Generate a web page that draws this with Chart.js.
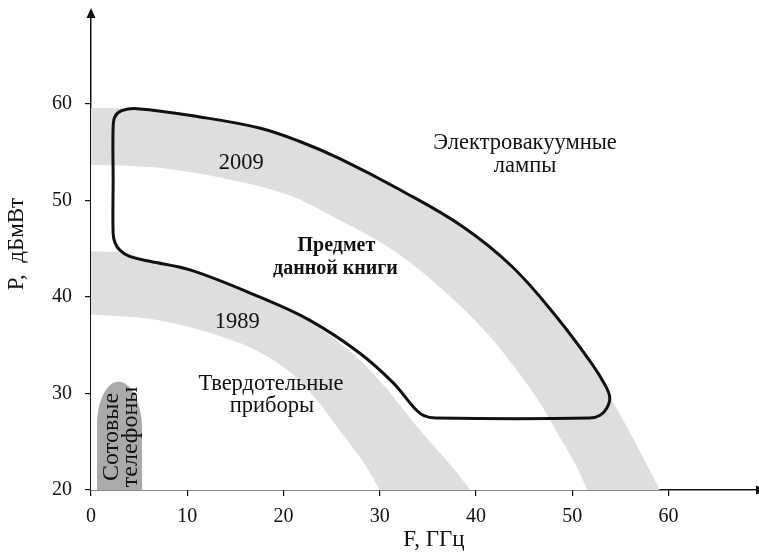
<!DOCTYPE html>
<html lang="ru">
<head>
<meta charset="utf-8">
<title>P(F)</title>
<script src="https://cdn.jsdelivr.net/npm/chart.js@4.4.1/dist/chart.umd.min.js"></script>
<style>
  html, body { margin: 0; padding: 0; background: #fff; }
  canvas { display: block; }
</style>
</head>
<body>
<canvas id="chart" width="759" height="554"></canvas>
<script>
// axis ticks
const xTicks = [0, 10, 20, 30, 40, 50, 60];
const yTicks = [20, 30, 40, 50, 60];
const xMax = 69.2;
const yMax = 69;

// band edges, [F, P]
const band2009Outer = [[0, 59.6], [4.8, 59.5], [11.3, 58.65], [17.5, 57.5], [21.7, 56.1], [25.9, 54.3], [32.1, 51.1], [38.6, 47.3], [43.8, 43.1], [48.4, 37.9], [52.1, 33.0], [53.9, 29.7], [55.7, 26.5], [57.4, 23.3], [59.1, 20]];
const band2009Inner = [[0, 53.7], [6.85, 53.4], [13.7, 52.3], [20.7, 50.5], [24.8, 48.5], [31.6, 44.7], [36.6, 40.7], [41.1, 36.3], [44.1, 32.6], [47.1, 28.3], [48.7, 25.5], [50.2, 22.9], [51.6, 20]];
const band1989Outer = [[0, 44.7], [3.3, 44.6], [6.1, 43.7], [10.3, 42.8], [15.5, 41.0], [20.7, 38.65], [24.8, 36.0], [27.9, 33.5], [30.8, 30.4], [33.3, 27.25], [35.7, 24.45], [37.6, 22.3], [39.4, 20]];
const band1989Inner = [[0, 38.2], [6.85, 37.6], [13.7, 35.85], [17.5, 34.3], [20.7, 32.2], [23.3, 29.5], [26.2, 25.7], [28.5, 22.6], [30.0, 20]];

// "Предмет данной книги" region outline (closed)
const bookRegion = [[2.3, 52.0], [2.3, 57.6], [2.5, 58.7], [3.2, 59.3], [4.8, 59.5], [11.3, 58.65], [17.5, 57.5], [21.7, 56.1], [25.9, 54.3], [32.1, 51.1], [38.6, 47.3], [43.8, 43.1], [48.4, 37.9], [52.1, 33.0], [53.4, 30.9], [53.9, 29.6], [53.6, 28.5], [52.9, 27.75], [51.8, 27.45], [35.8, 27.45], [34.6, 27.7], [33.6, 28.5], [31.4, 31.1], [27.9, 34.2], [22.7, 37.6], [17.5, 40.0], [10.3, 42.8], [6.1, 43.7], [4.0, 44.2], [3.0, 44.85], [2.5, 45.6], [2.3, 46.6], [2.3, 52.0]];

// cell phones
const phones = [[0.62, 20], [0.62, 26.5], [0.75, 28.2], [1.2, 29.7], [1.9, 30.8], [2.75, 31.2], [3.7, 30.9], [4.5, 29.9], [5.05, 28.4], [5.3, 26.5], [5.3, 20]];

const pts = a => a.map(([x, y]) => ({ x, y }));
const BAND = "#dedede";
const FONT = '"Liberation Serif", "Times New Roman", serif';

function edge(data, color) {
	return {
		data: pts(data),
		showLine: true,
		pointRadius: 0,
		borderWidth: 1,
		borderColor: "rgba(0,0,0,0)",
		backgroundColor: color,
		fill: "start",
		cubicInterpolationMode: "monotone",
	};
}

const textPlugin = {
	id: "texts",
	afterDraw(chart) {
		const { ctx, scales: { x, y }, chartArea: area } = chart;
		const put = (s, fx, fy, font) => {
			ctx.font = font;
			ctx.fillText(s, x.getPixelForValue(fx), y.getPixelForValue(fy));
		};
		const turned = (s, px, py, font) => {
			ctx.save();
			ctx.font = font;
			ctx.translate(px, py);
			ctx.rotate(-Math.PI / 2);
			ctx.fillText(s, 0, 0);
			ctx.restore();
		};
		ctx.save();
		ctx.fillStyle = "#111";
		ctx.textAlign = "center";
		ctx.textBaseline = "middle";
		const reg = "22.5px " + FONT;
		put("2009", 15.6, 53.9, reg);
		put("1989", 15.2, 37.4, reg);
		put("Электровакуумные", 45.1, 55.9, reg);
		put("лампы", 45.1, 53.6, reg);
		put("Твердотельные", 18.7, 31.0, reg);
		put("приборы", 18.8, 28.7, reg);
		const bold = "bold 20px " + FONT;
		put("Предмет", 25.5, 45.3, bold);
		put("данной книги", 25.4, 42.9, bold);

		// rotated phone label
		const ph = "24px " + FONT;
		turned("Сотовые", x.getPixelForValue(2.2), y.getPixelForValue(25.5), ph);
		turned("телефоны", x.getPixelForValue(4.15), y.getPixelForValue(25.5), ph);

		// axis titles
		ctx.font = "23px " + FONT;
		ctx.fillText("F, ГГц", 434, 540);
		turned("P,  дБмВт", 17, 244, "23px " + FONT);

		// axis arrows
		ctx.beginPath();
		ctx.moveTo(area.left, area.top - 9);
		ctx.lineTo(area.left - 4.5, area.top + 1);
		ctx.lineTo(area.left + 4.5, area.top + 1);
		ctx.closePath();
		ctx.fill();
		ctx.beginPath();
		ctx.moveTo(area.right + 11, area.bottom);
		ctx.lineTo(area.right - 1, area.bottom - 4.5);
		ctx.lineTo(area.right - 1, area.bottom + 4.5);
		ctx.closePath();
		ctx.fill();
		ctx.restore();
	},
};

Chart.defaults.font.family = FONT;
Chart.defaults.color = "#111";

new Chart(document.getElementById("chart"), {
	type: "scatter",
	data: {
		datasets: [
			{
				data: pts(bookRegion),
				showLine: true,
				pointRadius: 0,
				borderColor: "#111",
				borderWidth: 3,
				tension: 0.38,
				fill: false,
			},
			{
				data: pts(phones),
				showLine: true,
				pointRadius: 0,
				borderWidth: 1,
				borderColor: "rgba(0,0,0,0)",
				backgroundColor: "#aaaaaa",
				fill: "start",
				tension: 0.4,
			},
			edge(band1989Inner, "#ffffff"),
			edge(band1989Outer, BAND),
			edge(band2009Inner, "#ffffff"),
			edge(band2009Outer, BAND),
		],
	},
	options: {
		responsive: false,
		animation: false,
		layout: { padding: { top: 17, right: 2, left: 0, bottom: 0 } },
		plugins: {
			legend: { display: false },
			tooltip: { enabled: false },
		},
		scales: {
			x: {
				type: "linear",
				z: 1,
				min: 0,
				max: xMax,
				afterBuildTicks: s => { s.ticks = xTicks.map(v => ({ value: v })); },
				afterFit: s => { s.height = 64; s.paddingLeft = 0; s.paddingRight = 0; },
				border: { color: "#111", width: 1.5 },
				grid: { drawOnChartArea: false, color: "#111", lineWidth: 1.2, tickLength: 6 },
				ticks: { color: "#111", font: { size: 20 }, padding: 9, maxRotation: 0 },
			},
			y: {
				type: "linear",
				z: 1,
				min: 20,
				max: yMax,
				afterBuildTicks: s => { s.ticks = yTicks.map(v => ({ value: v })); },
				afterFit: s => { s.width = 91; s.paddingTop = 0; s.paddingBottom = 0; },
				border: { color: "#111", width: 1.5 },
				grid: { drawOnChartArea: false, color: "#111", lineWidth: 1.2, tickLength: 6 },
				ticks: { color: "#111", font: { size: 20 }, padding: 13 },
			},
		},
	},
	plugins: [textPlugin],
});
</script>
</body>
</html>
